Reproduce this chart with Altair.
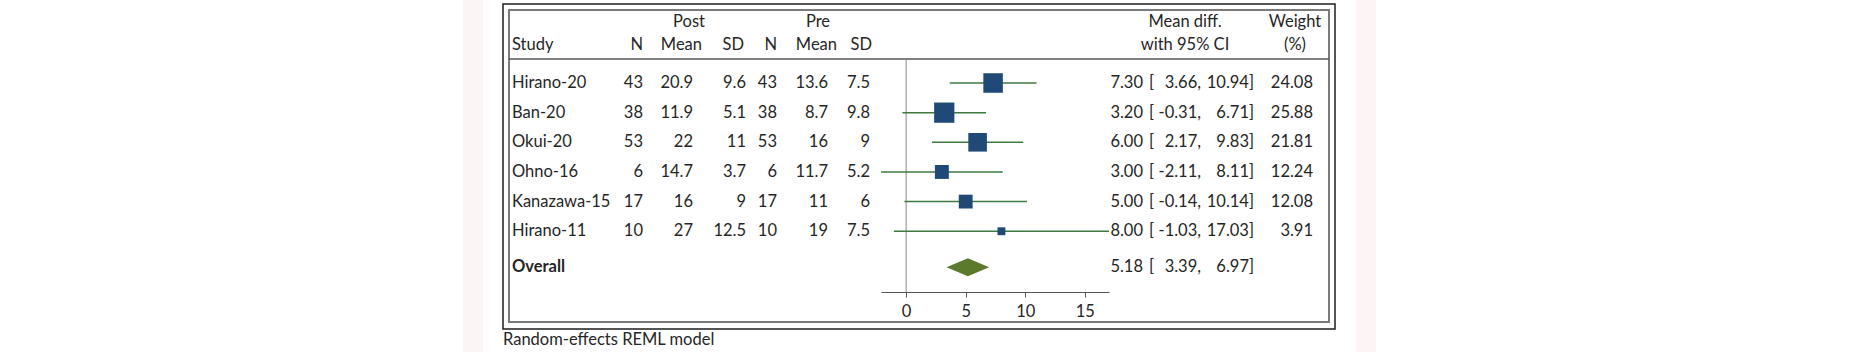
import altair as alt
import pandas as pd

# ---- data ----
studies = ["Hirano-20", "Ban-20", "Okui-20", "Ohno-16", "Kanazawa-15", "Hirano-11"]
post_n = [43, 38, 53, 6, 17, 10]
post_mean = [20.9, 11.9, 22, 14.7, 16, 27]
post_sd = [9.6, 5.1, 11, 3.7, 9, 12.5]
pre_n = [43, 38, 53, 6, 17, 10]
pre_mean = [13.6, 8.7, 16, 11.7, 11, 19]
pre_sd = [7.5, 9.8, 9, 5.2, 6, 7.5]
md = [7.30, 3.20, 6.00, 3.00, 5.00, 8.00]
md_lo = [3.66, -0.31, 2.17, -2.11, -0.14, -1.03]
md_hi = [10.94, 6.71, 9.83, 8.11, 10.14, 17.03]
weight = [24.08, 25.88, 21.81, 12.24, 12.08, 3.91]
overall = [5.18, 3.39, 6.97]
x_ticks = [0, 5, 10, 15]

FONT = "Lato"
FS = 16.5
TXT = "#262626"

n = len(studies)
rows = pd.DataFrame({
    "study": studies,
    "pos": list(range(n)),
    "post_n": [f"{v:g}" for v in post_n],
    "post_mean": [f"{v:g}" for v in post_mean],
    "post_sd": [f"{v:g}" for v in post_sd],
    "pre_n": [f"{v:g}" for v in pre_n],
    "pre_mean": [f"{v:g}" for v in pre_mean],
    "pre_sd": [f"{v:g}" for v in pre_sd],
    "md": md, "lo": md_lo, "hi": md_hi, "w": weight,
    "md_s": [f"{v:.2f}" for v in md],
    "lo_s": [f"{v:.2f}," for v in md_lo],
    "hi_s": [f"{v:.2f}]" for v in md_hi],
    "w_s": [f"{v:.2f}" for v in weight],
})
ov_pos = n - 1 + 36 / 29.65
ov = pd.DataFrame({
    "study": ["Overall"], "pos": [ov_pos],
    "md_s": [f"{overall[0]:.2f}"], "lo_s": [f"{overall[1]:.2f},"], "hi_s": [f"{overall[2]:.2f}]"],
})
h = 9 / 29.65
diamond = pd.DataFrame({
    "x": [overall[1], overall[0], overall[2]],
    "y": [ov_pos, ov_pos - h, ov_pos],
    "y2": [ov_pos, ov_pos + h, ov_pos],
})
one = pd.DataFrame({"k": [0]})

xs = alt.Scale(domain=[min(md_lo), max(md_hi)], range=[881, 1109], nice=False, zero=False)
ys = alt.Scale(domain=[0, n - 1], range=[83, 83 + (n - 1) * 29.65], nice=False, zero=False)

Y = alt.Y("pos:Q", scale=ys, axis=None)


def col(df, field, xpx, align="right", bold=False):
    return alt.Chart(df).mark_text(
        align=align, baseline="middle", font=FONT, fontSize=FS, color=TXT,
        fontWeight="bold" if bold else "normal"
    ).encode(x=alt.value(xpx), y=Y, text=f"{field}:N")


def hdr(txt, xpx, ypx, align="center"):
    return alt.Chart(one).mark_text(
        align=align, baseline="middle", font=FONT, fontSize=FS, color=TXT, text=txt
    ).encode(x=alt.value(xpx), y=alt.value(ypx))


def box(x1, x2, y1, y2, **kw):
    return alt.Chart(one).mark_rect(**kw).encode(
        x=alt.value(x1), x2=alt.value(x2), y=alt.value(y1), y2=alt.value(y2))


layers = [
    box(463, 483, 0, 352, fill="#fcf5f5"),
    box(1356, 1376, 0, 352, fill="#fcf5f5"),
    box(503, 1335, 4, 329, filled=False, stroke="#1e1e1e", strokeWidth=1.5),
    box(509, 1329, 10, 322, filled=False, stroke="#7a7a7a", strokeWidth=2),
    alt.Chart(one).mark_rule(color="#555555", strokeWidth=1.5).encode(
        x=alt.value(509), x2=alt.value(1329), y=alt.value(59)),
    # zero line
    alt.Chart(one).mark_rule(color="#8a8a8a", strokeWidth=1).encode(
        x=alt.X(datum=0, type="quantitative", scale=xs), y=alt.value(60), y2=alt.value(292)),
    # headers
    hdr("Post", 689, 22), hdr("Pre", 818, 22),
    hdr("Study", 512, 45, "left"),
    hdr("N", 643, 45, "right"), hdr("Mean", 702, 45, "right"), hdr("SD", 744, 45, "right"),
    hdr("N", 777, 45, "right"), hdr("Mean", 837, 45, "right"), hdr("SD", 872, 45, "right"),
    hdr("Mean diff.", 1185, 22), hdr("with 95% CI", 1185, 45),
    hdr("Weight", 1295, 22), hdr("(%)", 1295, 45),
    # table
    col(rows, "study", 512, "left"),
    col(rows, "post_n", 643), col(rows, "post_mean", 693), col(rows, "post_sd", 746),
    col(rows, "pre_n", 777), col(rows, "pre_mean", 828), col(rows, "pre_sd", 870),
    col(rows, "md_s", 1143),
    alt.Chart(rows).mark_text(align="left", baseline="middle", font=FONT, fontSize=FS,
                              color=TXT, text="[").encode(x=alt.value(1149), y=Y),
    col(rows, "lo_s", 1201), col(rows, "hi_s", 1254), col(rows, "w_s", 1313),
    col(ov, "study", 512, "left", bold=True),
    col(ov, "md_s", 1143),
    alt.Chart(ov).mark_text(align="left", baseline="middle", font=FONT, fontSize=FS,
                            color=TXT, text="[").encode(x=alt.value(1149), y=Y),
    col(ov, "lo_s", 1201), col(ov, "hi_s", 1254),
    # CI lines
    alt.Chart(rows).mark_rule(color="#3d7a3d", strokeWidth=1.5).encode(
        x=alt.X("lo:Q", scale=xs,
                axis=alt.Axis(values=x_ticks, format="d", title=None, grid=False, tickSize=5,
                              domainColor="#555555", tickColor="#555555", labelColor=TXT,
                              labelFont=FONT, labelFontSize=FS, labelPadding=6,
                              domainWidth=1.2, labelFlush=False)),
        x2="hi:Q", y=Y),
    # squares
    alt.Chart(rows).mark_square(filled=True, color="#1f4a78", opacity=1).encode(
        x=alt.X("md:Q", scale=xs), y=Y,
        size=alt.Size("w:Q", scale=alt.Scale(domain=[0, max(weight)], range=[0, 410]), legend=None)),
    # diamond
    alt.Chart(diamond).mark_area(color="#5b7a2c", opacity=1).encode(
        x=alt.X("x:Q", scale=xs), y=alt.Y("y:Q", scale=ys, axis=None), y2="y2:Q"),
    # caption
    hdr("Random-effects REML model", 503, 340, "left"),
]

chart = alt.layer(*layers).properties(
    width=1851, height=292,
    padding={"left": 0, "top": 0, "right": 0, "bottom": 60},
    autosize=alt.AutoSizeParams(type="none"),
    background="white",
).configure_view(stroke=None)

chart.save("out.html", embed_options={"renderer": "svg", "actions": False})
